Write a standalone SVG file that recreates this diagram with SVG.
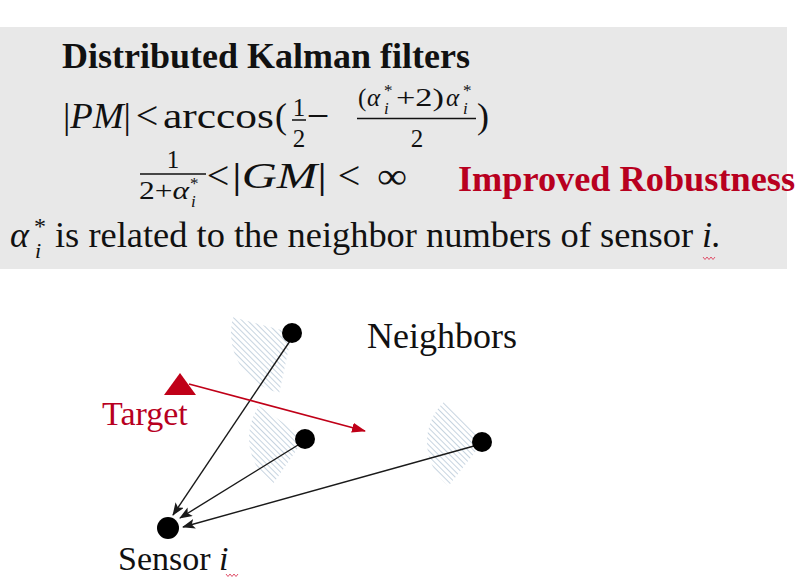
<svg xmlns="http://www.w3.org/2000/svg" width="800" height="582" viewBox="0 0 800 582">
<style>
text{font-family:"Liberation Serif","Times New Roman",serif;fill:#111}
.it{font-style:italic}
.b{font-weight:bold}
.red{fill:#b8001f}
.m36{font-size:36px}
.lt{font-size:40px}
.f{font-size:25px}
.s16{font-size:17px}
.frac{stroke:#111;stroke-width:1.5}
.conn{stroke:#1a1a1a;stroke-width:1.4;fill:none}
.dot{fill:#000}
.wedge{fill:url(#hatch)}
.sq{stroke:#e0506a;stroke-width:1;fill:none}
</style>
<defs>
<pattern id="hatch" width="4" height="4" patternUnits="userSpaceOnUse" patternTransform="rotate(-45)">
<line x1="0" y1="0" x2="0" y2="4" stroke="#b9c9d8" stroke-width="1.6"/>
</pattern>
<marker id="ah" viewBox="0 0 13 10" refX="12" refY="5" markerWidth="13" markerHeight="10" markerUnits="userSpaceOnUse" orient="auto">
<path d="M0,0 L13,5 L0,10 L3,5 Z" fill="#1a1a1a"/>
</marker>
<marker id="ahr" viewBox="0 0 14 10" refX="13" refY="5" markerWidth="14" markerHeight="10" markerUnits="userSpaceOnUse" orient="auto">
<path d="M0,0 L14,5 L0,10 Z" fill="#c00018"/>
</marker>
</defs>

<rect x="0" y="27" width="787" height="242" fill="#e8e8e8"/>

<g id="formula">
<text x="62" y="68" class="b" font-size="36" textLength="408" lengthAdjust="spacingAndGlyphs">Distributed Kalman filters</text>

<!-- row 2 -->
<text x="63" y="128" class="m36" textLength="68" lengthAdjust="spacingAndGlyphs">|<tspan class="it">PM</tspan>|</text>
<text x="147" y="129" class="lt" text-anchor="middle">&lt;</text>
<text x="163" y="128" class="m36" textLength="111" lengthAdjust="spacingAndGlyphs">arccos</text>
<text x="275" y="128" class="m36">(</text>
<text x="299" y="116" class="f" text-anchor="middle">1</text>
<line x1="292" y1="120" x2="306" y2="120" class="frac"/>
<text x="299" y="147" class="f" text-anchor="middle">2</text>
<text x="318" y="129" class="lt" text-anchor="middle">−</text>
<text x="358" y="106" class="f">(</text>
<text x="367" y="106" class="f it">α</text>
<text x="384" y="96" class="s16">*</text>
<text x="384" y="114" class="s16 it">i</text>
<text x="396" y="106" class="f" textLength="48" lengthAdjust="spacingAndGlyphs">+2)</text>
<text x="446" y="106" class="f it">α</text>
<text x="463" y="96" class="s16">*</text>
<text x="463" y="114" class="s16 it">i</text>
<line x1="357" y1="118.5" x2="476" y2="118.5" class="frac"/>
<text x="417" y="147" class="f" text-anchor="middle">2</text>
<text x="477" y="128" class="m36">)</text>

<!-- row 3 -->
<text x="173" y="168" class="f" text-anchor="middle">1</text>
<line x1="140" y1="174" x2="206" y2="174" class="frac"/>
<text x="139" y="199" class="f" textLength="50" lengthAdjust="spacingAndGlyphs">2+<tspan class="it">α</tspan></text>
<text x="190" y="189" class="s16">*</text>
<text x="191" y="207" class="s16 it">i</text>
<text x="218" y="189" class="lt" text-anchor="middle">&lt;</text>
<text x="232" y="188" class="m36" textLength="95" lengthAdjust="spacingAndGlyphs">|<tspan class="it">GM</tspan>|</text>
<text x="349" y="189" class="lt" text-anchor="middle">&lt;</text>
<text x="377" y="188" class="m36" textLength="30" lengthAdjust="spacingAndGlyphs">∞</text>
<text x="458" y="191" class="b red" font-size="36" textLength="337" lengthAdjust="spacingAndGlyphs">Improved Robustness</text>

<!-- row 4 -->
<text x="10" y="247" class="m36 it">α</text>
<text x="34" y="234" font-size="24">*</text>
<text x="35" y="258" class="it" font-size="22">i</text>
<text x="55" y="247" class="m36" textLength="638" lengthAdjust="spacingAndGlyphs">is related to the neighbor numbers of sensor</text>
<text x="702" y="247" class="m36 it">i.</text>
<path class="sq" d="M703,257 l2,2.5 l2,-2.5 l2,2.5 l2,-2.5 l2,2.5 l2,-2.5"/>
</g>

<g id="fov">
<path class="wedge" d="M292,333 L233.1,317.2 A61,61 0 0 0 279.3,392.7 Z"/>
<path class="wedge" d="M305,438 L259.1,405.9 A56,56 0 0 0 272.9,483.9 Z"/>
<path class="wedge" d="M483,442 L444.1,401.7 A56,56 0 0 0 448.5,486.1 Z"/>
</g>

<g id="connectors">
<line class="conn" x1="290" y1="341" x2="173" y2="515" marker-end="url(#ah)"/>
<line class="conn" x1="298" y1="445" x2="180" y2="518" marker-end="url(#ah)"/>
<line class="conn" x1="474" y1="446" x2="183" y2="527" marker-end="url(#ah)"/>
<line x1="189" y1="384" x2="365" y2="431" stroke="#c00018" stroke-width="1.6" marker-end="url(#ahr)"/>
</g>

<g id="target">
<path d="M180,373 L164,395 L196,395 Z" fill="#c00018"/>
<text x="102" y="425" class="red" font-size="34">Target</text>
</g>

<g id="neighbor1"><circle class="dot" cx="292" cy="333" r="10"/></g>
<g id="neighbor2"><circle class="dot" cx="305" cy="439" r="10"/></g>
<g id="neighbor3"><circle class="dot" cx="482" cy="442" r="10"/></g>
<g id="neighbors-label"><text x="367" y="348" font-size="36">Neighbors</text></g>

<g id="sensor">
<circle class="dot" cx="168" cy="528" r="11"/>
<text x="118" y="570" font-size="34">Sensor <tspan class="it">i</tspan></text>
<path class="sq" d="M226,574 l2,2.5 l2,-2.5 l2,2.5 l2,-2.5 l2,2.5 l2,-2.5"/>
</g>
</svg>
